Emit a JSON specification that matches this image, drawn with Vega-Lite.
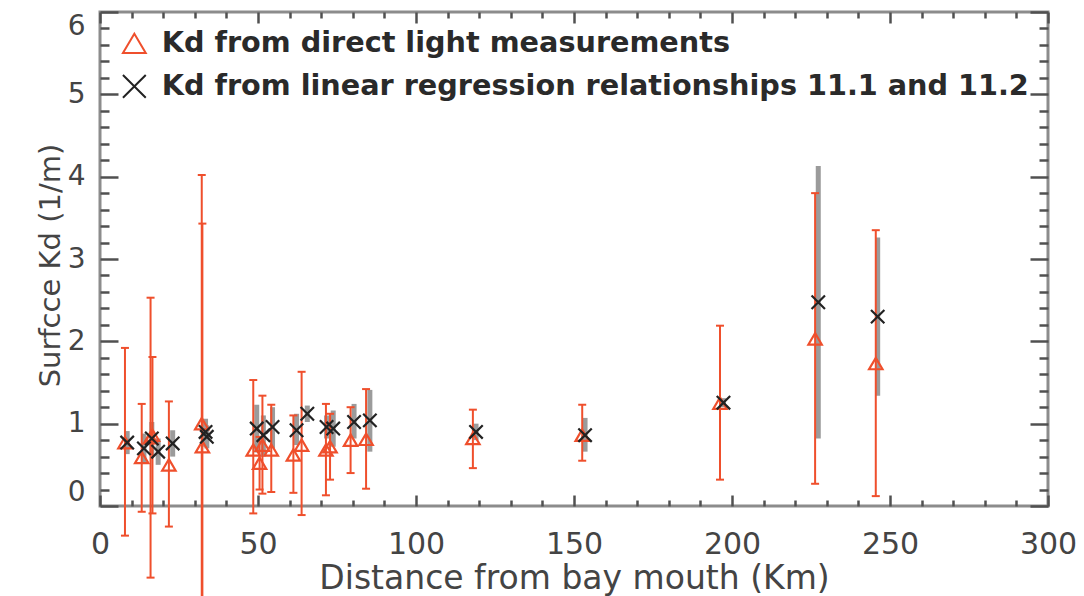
{
  "$schema": "https://vega.github.io/schema/vega-lite/v6.json",
  "width": 948,
  "height": 494,
  "autosize": {"type": "none"},
  "padding": {"left": 100, "top": 12, "right": 36, "bottom": 90},
  "background": "white",
  "config": {
    "view": {"stroke": "#8c8c8c", "strokeWidth": 3},
    "font": "DejaVu Sans",
    "axis": {
      "domain": false,
      "grid": false,
      "tickColor": "#505050",
      "tickWidth": 2.5,
      "labelColor": "#444444",
      "titleColor": "#444444",
      "titleFontWeight": "normal",
      "labelFont": "DejaVu Sans",
      "titleFont": "DejaVu Sans",
      "labelOverlap": false
    }
  },
  "datasets": {
    "kd": [
      {"series": "Kd from direct light measurements", "km": 7.9, "kd": 0.77, "lo": -0.36, "hi": 1.92},
      {"series": "Kd from direct light measurements", "km": 13.2, "kd": 0.59, "lo": -0.07, "hi": 1.24},
      {"series": "Kd from direct light measurements", "km": 16.0, "kd": 0.83, "lo": -0.87, "hi": 2.53},
      {"series": "Kd from direct light measurements", "km": 16.6, "kd": 0.86, "lo": -0.09, "hi": 1.81},
      {"series": "Kd from direct light measurements", "km": 21.8, "kd": 0.50, "lo": -0.25, "hi": 1.27},
      {"series": "Kd from direct light measurements", "km": 32.2, "kd": 1.00, "lo": -2.02, "hi": 4.02},
      {"series": "Kd from direct light measurements", "km": 32.4, "kd": 0.72, "lo": -1.99, "hi": 3.43},
      {"series": "Kd from direct light measurements", "km": 48.5, "kd": 0.68, "lo": -0.09, "hi": 1.53},
      {"series": "Kd from direct light measurements", "km": 50.5, "kd": 0.52, "lo": 0.20, "hi": 0.84},
      {"series": "Kd from direct light measurements", "km": 51.4, "kd": 0.74, "lo": 0.15, "hi": 1.34},
      {"series": "Kd from direct light measurements", "km": 54.2, "kd": 0.68, "lo": 0.17, "hi": 1.23},
      {"series": "Kd from direct light measurements", "km": 61.2, "kd": 0.62, "lo": 0.16, "hi": 1.10},
      {"series": "Kd from direct light measurements", "km": 63.8, "kd": 0.74, "lo": -0.11, "hi": 1.63},
      {"series": "Kd from direct light measurements", "km": 71.5, "kd": 0.68, "lo": 0.13, "hi": 1.24},
      {"series": "Kd from direct light measurements", "km": 72.8, "kd": 0.72, "lo": 0.32, "hi": 1.12},
      {"series": "Kd from direct light measurements", "km": 79.3, "kd": 0.80, "lo": 0.40, "hi": 1.20},
      {"series": "Kd from direct light measurements", "km": 84.2, "kd": 0.81, "lo": 0.21, "hi": 1.42},
      {"series": "Kd from direct light measurements", "km": 118.0, "kd": 0.82, "lo": 0.46, "hi": 1.17},
      {"series": "Kd from direct light measurements", "km": 152.6, "kd": 0.86, "lo": 0.55, "hi": 1.23},
      {"series": "Kd from direct light measurements", "km": 196.2, "kd": 1.25, "lo": 0.32, "hi": 2.19},
      {"series": "Kd from direct light measurements", "km": 226.3, "kd": 2.03, "lo": 0.27, "hi": 3.80},
      {"series": "Kd from direct light measurements", "km": 245.5, "kd": 1.73, "lo": 0.12, "hi": 3.35},
      {"series": "Kd from linear regression relationships 11.1 and 11.2", "km": 8.6, "kd": 0.77, "lo": 0.63, "hi": 0.91},
      {"series": "Kd from linear regression relationships 11.1 and 11.2", "km": 13.9, "kd": 0.70, "lo": 0.52, "hi": 0.88},
      {"series": "Kd from linear regression relationships 11.1 and 11.2", "km": 16.4, "kd": 0.82, "lo": 0.62, "hi": 1.02},
      {"series": "Kd from linear regression relationships 11.1 and 11.2", "km": 18.4, "kd": 0.66, "lo": 0.50, "hi": 0.82},
      {"series": "Kd from linear regression relationships 11.1 and 11.2", "km": 23.0, "kd": 0.76, "lo": 0.60, "hi": 0.92},
      {"series": "Kd from linear regression relationships 11.1 and 11.2", "km": 33.4, "kd": 0.90, "lo": 0.72, "hi": 1.06},
      {"series": "Kd from linear regression relationships 11.1 and 11.2", "km": 33.8, "kd": 0.84, "lo": 0.70, "hi": 0.98},
      {"series": "Kd from linear regression relationships 11.1 and 11.2", "km": 49.6, "kd": 0.94, "lo": 0.65, "hi": 1.23},
      {"series": "Kd from linear regression relationships 11.1 and 11.2", "km": 51.7, "kd": 0.86, "lo": 0.60, "hi": 1.10},
      {"series": "Kd from linear regression relationships 11.1 and 11.2", "km": 54.6, "kd": 0.96, "lo": 0.70, "hi": 1.20},
      {"series": "Kd from linear regression relationships 11.1 and 11.2", "km": 62.2, "kd": 0.92, "lo": 0.74, "hi": 1.12},
      {"series": "Kd from linear regression relationships 11.1 and 11.2", "km": 65.6, "kd": 1.12, "lo": 1.02, "hi": 1.22},
      {"series": "Kd from linear regression relationships 11.1 and 11.2", "km": 71.7, "kd": 0.96, "lo": 0.82, "hi": 1.10},
      {"series": "Kd from linear regression relationships 11.1 and 11.2", "km": 73.8, "kd": 0.94, "lo": 0.72, "hi": 1.16},
      {"series": "Kd from linear regression relationships 11.1 and 11.2", "km": 80.4, "kd": 1.02, "lo": 0.82, "hi": 1.24},
      {"series": "Kd from linear regression relationships 11.1 and 11.2", "km": 85.4, "kd": 1.04, "lo": 0.66, "hi": 1.41},
      {"series": "Kd from linear regression relationships 11.1 and 11.2", "km": 119.0, "kd": 0.90, "lo": 0.80, "hi": 1.00},
      {"series": "Kd from linear regression relationships 11.1 and 11.2", "km": 153.5, "kd": 0.86, "lo": 0.66, "hi": 1.07},
      {"series": "Kd from linear regression relationships 11.1 and 11.2", "km": 197.3, "kd": 1.255, "lo": 1.20, "hi": 1.31},
      {"series": "Kd from linear regression relationships 11.1 and 11.2", "km": 227.3, "kd": 2.475, "lo": 0.82, "hi": 4.13},
      {"series": "Kd from linear regression relationships 11.1 and 11.2", "km": 246.1, "kd": 2.30, "lo": 1.34, "hi": 3.26}
    ]
  },
  "data": {"name": "kd"},
  "layer": [
    {
      "transform": [{"filter": {"field": "series", "equal": "Kd from linear regression relationships 11.1 and 11.2"}}],
      "mark": {"type": "rule", "color": "#9b9b9b", "strokeWidth": 5},
      "encoding": {
        "x": {
          "field": "km", "type": "quantitative",
          "scale": {"domain": [0, 300], "nice": false, "zero": false},
          "axis": {
            "orient": "bottom",
            "values": [0, 10, 20, 30, 40, 50, 60, 70, 80, 90, 100, 110, 120, 130, 140, 150, 160, 170, 180, 190, 200, 210, 220, 230, 240, 250, 260, 270, 280, 290, 300],
            "labelExpr": "datum.value % 50 === 0 ? datum.label : ''",
            "tickSize": {"condition": {"test": "datum.value % 50 === 0", "value": -11}, "value": -6},
            "labelPadding": 34,
            "labelFlush": false,
            "labelFontSize": 30,
            "labelBaseline": "top",
            "title": "Distance from bay mouth (Km)",
            "titleFontSize": 33,
            "titleY": 82,
            "titleBaseline": "alphabetic"
          }
        },
        "y": {
          "field": "lo", "type": "quantitative",
          "scale": {"domain": [0, 6], "nice": false, "zero": false},
          "axis": {
            "orient": "left",
            "values": [0, 0.2, 0.4, 0.6, 0.8, 1, 1.2, 1.4, 1.6, 1.8, 2, 2.2, 2.4, 2.6, 2.8, 3, 3.2, 3.4, 3.6, 3.8, 4, 4.2, 4.4, 4.6, 4.8, 5, 5.2, 5.4, 5.6, 5.8, 6],
            "labelExpr": "datum.value % 1 === 0 ? format(datum.value, 'd') : ''",
            "tickSize": {"condition": {"test": "datum.value % 1 === 0", "value": -18}, "value": -9},
            "labelPadding": 33,
            "labelFlush": true,
            "labelFontSize": 28,
            "title": "Surfcce Kd (1/m)",
            "titleFontSize": 29,
            "titleX": -50,
            "titleY": 253,
            "titleAngle": -90,
            "titleAlign": "center",
            "titleBaseline": "middle"
          }
        },
        "y2": {"field": "hi"}
      }
    },
    {
      "transform": [{"filter": {"field": "series", "equal": "Kd from direct light measurements"}}],
      "mark": {"type": "rule", "color": "#ef4f2c", "strokeWidth": 2},
      "encoding": {
        "x": {
          "field": "km", "type": "quantitative",
          "scale": {"domain": [0, 300], "nice": false, "zero": false},
          "axis": {
            "orient": "top",
            "values": [0, 10, 20, 30, 40, 50, 60, 70, 80, 90, 100, 110, 120, 130, 140, 150, 160, 170, 180, 190, 200, 210, 220, 230, 240, 250, 260, 270, 280, 290, 300],
            "labels": false,
            "tickSize": {"condition": {"test": "datum.value % 50 === 0", "value": -11}, "value": -6},
            "title": null
          }
        },
        "y": {
          "field": "lo", "type": "quantitative",
          "scale": {"domain": [0, 6], "nice": false, "zero": false},
          "axis": {
            "orient": "right",
            "values": [0, 0.2, 0.4, 0.6, 0.8, 1, 1.2, 1.4, 1.6, 1.8, 2, 2.2, 2.4, 2.6, 2.8, 3, 3.2, 3.4, 3.6, 3.8, 4, 4.2, 4.4, 4.6, 4.8, 5, 5.2, 5.4, 5.6, 5.8, 6],
            "labels": false,
            "tickSize": {"condition": {"test": "datum.value % 1 === 0", "value": -18}, "value": -9},
            "title": null
          }
        },
        "y2": {"field": "hi"}
      }
    },
    {
      "transform": [
        {"filter": {"field": "series", "equal": "Kd from direct light measurements"}},
        {"fold": ["lo", "hi"], "as": ["end", "v"]}
      ],
      "mark": {"type": "point", "shape": "M-1,0L1,0", "size": 64, "filled": false, "strokeWidth": 2, "color": "#ef4f2c", "opacity": 1},
      "encoding": {
        "x": {"field": "km", "type": "quantitative", "scale": {"domain": [0, 300], "nice": false, "zero": false}, "axis": null},
        "y": {"field": "v", "type": "quantitative", "scale": {"domain": [0, 6], "nice": false, "zero": false}, "axis": null}
      }
    },
    {
      "mark": {"type": "point", "filled": false, "strokeWidth": 2.2, "size": 180, "opacity": 1},
      "encoding": {
        "x": {"field": "km", "type": "quantitative", "scale": {"domain": [0, 300], "nice": false, "zero": false}, "axis": null},
        "y": {"field": "kd", "type": "quantitative", "scale": {"domain": [0, 6], "nice": false, "zero": false}, "axis": null},
        "shape": {
          "field": "series", "type": "nominal",
          "scale": {
            "domain": ["Kd from direct light measurements", "Kd from linear regression relationships 11.1 and 11.2"],
            "range": ["M0,-0.85L1,0.85L-1,0.85Z", "M-1,-1L1,1M-1,1L1,-1"]
          },
          "legend": {
            "orient": "none",
            "legendX": 20,
            "legendY": 17,
            "title": null,
            "padding": 0,
            "labelFont": "DejaVu Sans",
            "labelFontSize": 28.7,
            "labelFontWeight": "bold",
            "labelColor": "#2a2a2a",
            "labelLimit": 1200,
            "labelOffset": 13,
            "symbolSize": 520,
            "symbolStrokeWidth": 2,
            "rowPadding": 11,
            "encode": {
              "symbols": {
                "update": {
                  "stroke": {"signal": "indexof(datum.label, 'direct') >= 0 ? '#f08c4c' : '#555555'"}
                }
              }
            }
          }
        },
        "color": {
          "field": "series", "type": "nominal",
          "scale": {
            "domain": ["Kd from direct light measurements", "Kd from linear regression relationships 11.1 and 11.2"],
            "range": ["#ef4f2c", "#222222"]
          }
        }
      }
    }
  ],
  "resolve": {"axis": {"x": "independent", "y": "independent"}}
}
